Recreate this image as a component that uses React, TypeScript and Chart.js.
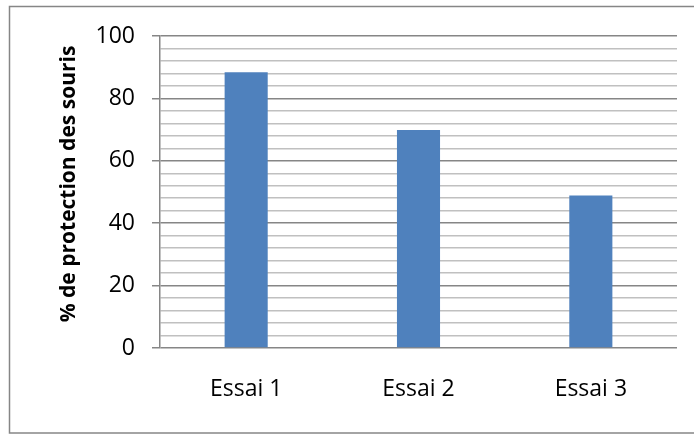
import React, { useEffect, useRef } from "react";
import { Chart, registerables } from "chart.js";

Chart.register(...registerables);

const categories: string[] = ["Essai 1", "Essai 2", "Essai 3"];
const protection: number[] = [88.4, 69.9, 48.9];
const yMin = 0;
const yMax = 100;
const yMinorStep = 4;
const yMajorStep = 20;
const yTitle = "% de protection des souris";

const FONT = "'Open Sans', 'DejaVu Sans', sans-serif";
const MAJOR = "#868686";
const MINOR = "#c0c0c0";

// Thin grey frame around the chart area
const framePlugin = {
  id: "frame",
  beforeDraw(chart: Chart) {
    const { ctx } = chart;
    ctx.save();
    ctx.strokeStyle = MAJOR;
    ctx.lineWidth = 1.5;
    ctx.strokeRect(9.5, 6.5, 720, 426.5);
    ctx.restore();
  },
};

// Rotated, bold value-axis title to the left of the tick labels
const yTitlePlugin = {
  id: "yTitle",
  afterDraw(chart: Chart) {
    const { ctx } = chart;
    ctx.save();
    ctx.translate(69, 184);
    ctx.rotate(-Math.PI / 2);
    ctx.fillStyle = "#000";
    ctx.font = `bold 21px ${FONT}`;
    ctx.textAlign = "center";
    ctx.textBaseline = "middle";
    ctx.fillText(yTitle, 0, 0);
    ctx.restore();
  },
};

export default function App() {
  const canvasRef = useRef<HTMLCanvasElement | null>(null);

  useEffect(() => {
    if (!canvasRef.current) return;
    const isMajor = (v: number) => Math.abs(v % yMajorStep) < 1e-6;
    const chart = new Chart(canvasRef.current, {
      type: "bar",
      data: {
        labels: categories,
        datasets: [
          {
            data: protection,
            backgroundColor: "#4F81BD",
            borderWidth: 0,
            barPercentage: 0.25,
            categoryPercentage: 1,
          },
        ],
      },
      options: {
        animation: false,
        responsive: false,
        devicePixelRatio: 1,
        layout: { padding: { left: 0, top: 36, right: 17, bottom: 0 } },
        plugins: {
          legend: { display: false },
          tooltip: { enabled: false },
        },
        scales: {
          x: {
            grid: { display: false, drawTicks: false },
            border: { display: false },
            ticks: {
              color: "#000",
              font: { family: FONT, size: 23 },
              padding: 28,
            },
            afterFit(scale: any) {
              scale.height = 86;
            },
          },
          y: {
            min: yMin,
            max: yMax,
            ticks: {
              stepSize: yMinorStep,
              autoSkip: false,
              color: "#000",
              font: { family: FONT, size: 23 },
              padding: 17,
              callback: (v: any) => (isMajor(Number(v)) ? String(v) : ""),
            },
            grid: {
              color: (c: any) => (isMajor(c.tick?.value ?? 0) ? MAJOR : MINOR),
              tickColor: (c: any) =>
                isMajor(c.tick?.value ?? 0) ? MAJOR : "rgba(0,0,0,0)",
              lineWidth: 1.5,
              tickLength: 8,
            },
            border: { display: true, color: MAJOR, width: 1.5 },
            title: { display: false },
            afterFit(scale: any) {
              scale.width = 160;
            },
          },
        },
      },
      plugins: [framePlugin, yTitlePlugin],
    });
    return () => chart.destroy();
  }, []);

  return (
    <div style={{ position: "absolute", left: 0, top: 0, width: 694, height: 434, background: "#fff" }}>
      <canvas ref={canvasRef} width={694} height={434} />
    </div>
  );
}
